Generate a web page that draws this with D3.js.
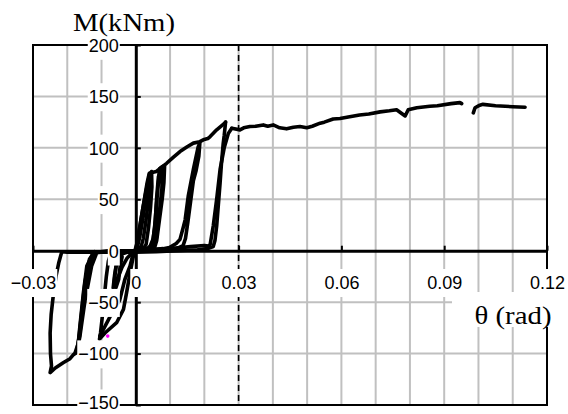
<!DOCTYPE html>
<html>
<head>
<meta charset="utf-8">
<script src="https://cdn.jsdelivr.net/npm/d3@7"></script>
<style>
body { margin: 0; background: #fff; }
svg { display: block; }
.lbl text { font-family: "Liberation Sans", Arial, sans-serif; font-size: 18px; fill: #000; }
.title { font-family: "Liberation Serif", "Times New Roman", serif; font-size: 25px; fill: #000; }
</style>
</head>
<body>
<div id="chart"></div>
<script>
// axis ticks
const xTicks = [-0.03, 0, 0.03, 0.06, 0.09, 0.12];
const xTickLabels = ["\u22120.03", "0", "0.03", "0.06", "0.09", "0.12"];
const yTicks = [-150, -100, -50, 0, 50, 100, 150, 200];
const yTickLabels = ["\u2212150", "\u2212100", "\u221250", "0", "50", "100", "150", "200"];

// [theta (rad), M (kNm)]
const cycleP1 = [[-0.0006,-4],[0.0004,8],[0.0014,28],[0.0024,48],[0.0033,66],[0.0039,75],[0.0041,70],[0.0037,50],[0.0030,30],[0.0022,12],[0.0014,2],[0.0002,-1]];
const cycleP2 = [[0.0002,0],[0.0012,14],[0.0022,34],[0.0031,54],[0.0040,72],[0.0046,77],[0.0047,62],[0.0043,42],[0.0037,22],[0.0030,6],[0.0020,1]];
const cycleP3 = [[0.0020,1],[0.0040,3],[0.0051,12],[0.0057,30],[0.0061,52],[0.0066,72],[0.0073,80],[0.0084,82],[0.0082,66],[0.0077,50],[0.0069,30],[0.0061,10],[0.0055,3],[0.0040,1]];
const cycleP3b = [[0.0030,1],[0.0048,6],[0.0055,22],[0.0060,44],[0.0066,66],[0.0070,80],[0.0078,82],[0.0076,60],[0.0068,35],[0.0060,12],[0.0052,2]];
const cycleP4 = [[0.0040,1],[0.0080,2],[0.0098,3],[0.0118,7],[0.0129,11],[0.0138,22],[0.0144,30],[0.0153,53],[0.0168,79],[0.0182,101],[0.0187,105],[0.0184,92],[0.0176,78],[0.0168,68],[0.0160,48],[0.0152,28],[0.0145,12],[0.0138,5],[0.0120,2],[0.0090,1]];
const skeleton = [[0,0],[0.0010,20],[0.0020,40],[0.0030,58],[0.0041,75.6],[0.0060,77],[0.0075,81],[0.0090,85],[0.0110,91],[0.0129,96.4],[0.0150,101],[0.0168,104.6],[0.0187,106],[0.0197,107.8],[0.0210,109],[0.0217,111],[0.0236,117.5],[0.0256,123],[0.0262,125]];
const cycleP5 = [[0.0262,125],[0.0258,112],[0.0255,104],[0.0250,85],[0.0246,66],[0.0241,45],[0.0236,24],[0.0231,10],[0.0226,4],[0.0210,2],[0.0180,1],[0.0120,0],[0.0060,-1],[0,-1.5]];
const cycleP6 = [[0.0040,1],[0.0100,2],[0.0160,4],[0.0200,5],[0.0212,4.5],[0.0217,6],[0.0226,24],[0.0236,50],[0.0246,79],[0.0258,100],[0.0270,114],[0.0280,119]];
const tailA = [[0.0280,119],[0.0304,117.5],[0.0315,119.5],[0.0333,120.7],[0.0350,121],[0.0372,122.3],[0.0385,121],[0.0401,122.3],[0.0420,119.5],[0.0440,118.5],[0.0460,120],[0.0479,120.7],[0.0499,119.5],[0.0515,121],[0.0538,124],[0.0550,125],[0.0576,128],[0.0596,128.5],[0.0620,130],[0.0653,132],[0.0680,133],[0.0713,135],[0.0740,136],[0.0761,137],[0.0786,131],[0.0795,137],[0.0820,139],[0.0858,140.5],[0.0880,141],[0.0920,143],[0.0946,144],[0.0951,143]];
const tailB = [[0.0985,134],[0.0990,139],[0.1004,141.5],[0.1013,142.3],[0.1050,141],[0.1100,140],[0.1136,139.5]];
const cycleN1 = [[0,-1],[-0.0020,-1],[-0.0040,-3],[-0.0055,-10],[-0.0062,-24],[-0.0066,-36],[-0.0060,-34],[-0.0052,-26],[-0.0040,-16],[-0.0025,-7],[-0.0010,-2],[0,0]];
const cycleN1b = [[-0.0030,-1],[-0.0048,-5],[-0.0058,-16],[-0.0063,-30],[-0.0058,-36],[-0.0050,-28],[-0.0046,-16],[-0.0040,-6]];
const cycleN2 = [[-0.0050,-1],[-0.0072,-2],[-0.0080,-10],[-0.0086,-25],[-0.0092,-45],[-0.0098,-65],[-0.0103,-80],[-0.0106,-86],[-0.0090,-80],[-0.0056,-70],[-0.0036,-57],[-0.0027,-41],[-0.0017,-22],[-0.0007,-5],[0,0],[0.0015,4]];
const cycleN2b = [[-0.0105,-83],[-0.0075,-64],[-0.0047,-48],[-0.0032,-28],[-0.0017,-15],[-0.0007,-2],[0.0005,1]];
const cycleN3 = [[-0.0080,-1],[-0.0110,-1],[-0.0124,-2],[-0.0143,-15],[-0.0153,-41],[-0.0163,-73],[-0.0168,-90],[-0.0177,-99],[-0.0172,-99],[-0.0163,-83],[-0.0148,-48],[-0.0129,-15],[-0.0114,-2],[-0.0090,-1],[-0.0050,0]];
const cycleN3b = [[-0.0120,-1],[-0.0135,-8],[-0.0148,-30],[-0.0158,-60],[-0.0166,-85],[-0.0172,-97]];
const cycleN4 = [[0,-1.5],[-0.0080,-1.5],[-0.0150,-1.5],[-0.0200,-1.5],[-0.0216,-1],[-0.0225,-12],[-0.0233,-25],[-0.0241,-44],[-0.0247,-62],[-0.0250,-80],[-0.0249,-100],[-0.0246,-112],[-0.0250,-118.5],[-0.0235,-114],[-0.0212,-109],[-0.0192,-105],[-0.0182,-101],[-0.0172,-99],[-0.0163,-80],[-0.0153,-48],[-0.0143,-25],[-0.0124,-2],[-0.0080,0],[0,0]];
const markerPoint = [[-0.0082,-83]];

const curves = [cycleP1, cycleP2, cycleP3, cycleP3b, cycleP4, skeleton, cycleP5, cycleP6, tailA, tailB,
  cycleN1, cycleN1b, cycleN2, cycleN2b, cycleN3, cycleN3b, cycleN4];

const w = 568;
const h = 414;

const x = d3.scaleLinear().domain([-0.03, 0.12]).range([33, 547]);
const y = d3.scaleLinear().domain([-150, 200]).range([405, 45]);

const svg = d3.select("#chart")
  .append("svg")
  .attr("width", w)
  .attr("height", h);

svg.append("rect").attr("width", w).attr("height", h).attr("fill", "#fff");

// grid
svg.append("g")
  .selectAll("line")
  .data(x.ticks(15).filter(d => Math.abs(d) > 1e-9 && d > -0.03 + 1e-9 && d < 0.12 - 1e-9))
  .enter()
  .append("line")
  .attr("x1", d => x(d)).attr("x2", d => x(d))
  .attr("y1", y(200)).attr("y2", y(-150))
  .attr("stroke", "#c0c0c0").attr("stroke-width", 2);

svg.append("g")
  .selectAll("line")
  .data(yTicks.filter(d => d !== 0 && d !== 200 && d !== -150))
  .enter()
  .append("line")
  .attr("x1", x(-0.03)).attr("x2", x(0.12))
  .attr("y1", d => y(d)).attr("y2", d => y(d))
  .attr("stroke", "#c0c0c0").attr("stroke-width", 2);

// frame
svg.append("rect")
  .attr("x", x(-0.03)).attr("y", y(200))
  .attr("width", x(0.12) - x(-0.03)).attr("height", y(-150) - y(200))
  .attr("fill", "none").attr("stroke", "#000").attr("stroke-width", 2);

// dashed line at 0.03
svg.append("line")
  .attr("x1", x(0.03)).attr("x2", x(0.03))
  .attr("y1", y(200)).attr("y2", y(-150))
  .attr("stroke", "#000").attr("stroke-width", 1.6)
  .attr("stroke-dasharray", "6,4");

// axes through the origin, ticks pointing inward
const xAxis = d3.axisTop(x).tickValues(xTicks).tickSize(5).tickSizeOuter(0).tickFormat("");
const gx = svg.append("g")
  .attr("transform", `translate(0, ${y(0)})`)
  .call(xAxis);
gx.select(".domain").attr("stroke-width", 3);
gx.selectAll(".tick line").attr("stroke-width", 2);

const yAxis = d3.axisRight(y).tickValues(yTicks).tickSize(5).tickSizeOuter(0).tickFormat("");
const gy = svg.append("g")
  .attr("transform", `translate(${x(0)}, 0)`)
  .call(yAxis);
gy.select(".domain").attr("stroke-width", 3);
gy.selectAll(".tick line").attr("stroke-width", 2);

// data
const line = d3.line().x(d => x(d[0])).y(d => y(d[1]));

svg.append("g")
  .selectAll("path")
  .data(curves)
  .enter()
  .append("path")
  .attr("d", line)
  .attr("fill", "none")
  .attr("stroke", "#000")
  .attr("stroke-width", 3.6)
  .attr("stroke-linejoin", "round")
  .attr("stroke-linecap", "round");

svg.append("g")
  .selectAll("circle")
  .data(markerPoint)
  .enter()
  .append("circle")
  .attr("cx", d => x(d[0])).attr("cy", d => y(d[1]))
  .attr("r", 1.8).attr("fill", "#ff00ff");

// tick labels with white boxes
function boxLabels(g) {
  g.selectAll(".tick text").each(function () {
    const b = this.getBBox();
    const ctm = this.getCTM();
    const cy = b.y + b.height / 2;
    const top = cy - 14;
    const bottom = Math.min(cy + 14, h - ctm.f);
    d3.select(this.parentNode).insert("rect", "text")
      .attr("x", b.x - 1).attr("y", top)
      .attr("width", b.width + 2).attr("height", bottom - top)
      .attr("fill", "#fff");
  });
}

const xLab = svg.append("g")
  .attr("class", "lbl")
  .attr("transform", `translate(0, ${y(0)})`)
  .call(d3.axisBottom(x).tickValues(xTicks).tickSize(0).tickFormat((d, i) => xTickLabels[i]));
xLab.select(".domain").remove();
xLab.attr("font-family", null).attr("font-size", null);
xLab.selectAll(".tick text").attr("y", 32).attr("dy", "0.35em");
boxLabels(xLab);

const yLab = svg.append("g")
  .attr("class", "lbl")
  .attr("transform", `translate(${x(0) - 17}, 0)`)
  .call(d3.axisLeft(y).tickValues(yTicks).tickSize(0).tickPadding(0).tickFormat((d, i) => yTickLabels[i]));
yLab.select(".domain").remove();
yLab.attr("font-family", null).attr("font-size", null);
yLab.selectAll(".tick text").attr("dy", d => d === -150 ? "0.22em" : "0.35em");
boxLabels(yLab);

// axis titles
svg.append("text")
  .attr("class", "title")
  .attr("x", 124).attr("y", 31)
  .attr("text-anchor", "middle")
  .attr("textLength", 102)
  .attr("lengthAdjust", "spacingAndGlyphs")
  .text("M(kNm)");

svg.append("rect")
  .attr("x", 452).attr("y", 292)
  .attr("width", 100).attr("height", 35)
  .attr("fill", "#fff");

svg.append("text")
  .attr("class", "title")
  .attr("x", 513).attr("y", 324)
  .attr("text-anchor", "middle")
  .attr("textLength", 77)
  .attr("lengthAdjust", "spacingAndGlyphs")
  .text("\u03b8 (rad)");
</script>
</body>
</html>
